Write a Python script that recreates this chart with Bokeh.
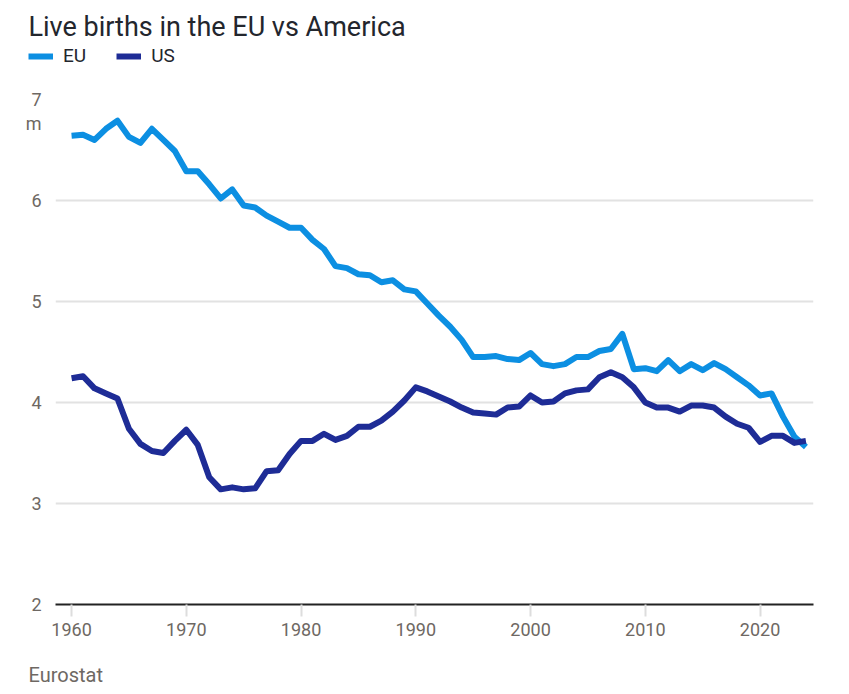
from bokeh.plotting import figure
from bokeh.layouts import column, row
from bokeh.models import Range1d, Legend, LegendItem, FixedTicker, Title, Label
from bokeh.embed import file_html
from bokeh.resources import INLINE

years = list(range(1960, 2025))
eu = [6.64, 6.65, 6.60, 6.71, 6.79, 6.63, 6.57, 6.71, 6.60, 6.49,
      6.29, 6.29, 6.16, 6.02, 6.11, 5.95, 5.93, 5.85, 5.79, 5.73,
      5.73, 5.61, 5.52, 5.35, 5.33, 5.27, 5.26, 5.19, 5.21, 5.12,
      5.10, 4.98, 4.86, 4.75, 4.62, 4.45, 4.45, 4.46, 4.43, 4.42,
      4.49, 4.38, 4.36, 4.38, 4.45, 4.45, 4.51, 4.53, 4.68, 4.33,
      4.34, 4.31, 4.42, 4.31, 4.38, 4.32, 4.39, 4.33, 4.25, 4.17,
      4.07, 4.09, 3.86, 3.66, 3.56]
us = [4.24, 4.26, 4.14, 4.09, 4.04, 3.74, 3.59, 3.52, 3.50, 3.62,
      3.73, 3.58, 3.26, 3.14, 3.16, 3.14, 3.15, 3.32, 3.33, 3.49,
      3.62, 3.62, 3.69, 3.63, 3.67, 3.76, 3.76, 3.82, 3.91, 4.02,
      4.15, 4.11, 4.06, 4.01, 3.95, 3.90, 3.89, 3.88, 3.95, 3.96,
      4.07, 4.00, 4.01, 4.09, 4.12, 4.13, 4.25, 4.30, 4.25, 4.15,
      4.00, 3.95, 3.95, 3.91, 3.97, 3.97, 3.95, 3.86, 3.79, 3.75,
      3.61, 3.67, 3.67, 3.60, 3.62]
series_names = ["EU", "US"]
x_ticks = [1960, 1970, 1980, 1990, 2000, 2010, 2020]
y_ticks = [2, 3, 4, 5, 6, 7]
unit_pos = 6.76
unit_label = "m"
title_text = "Live births in the EU vs America"
source_text = "Eurostat"

EU_COLOR = "#0c8fe2"
US_COLOR = "#1e2c96"
TICK_COLOR = "#6e6863"
TEXT_COLOR = "#23262d"
FONT = "Roboto"

LEFT = 55
# ---------- header: title + legend ----------
HEAD_H = 80
head = figure(width=838, height=HEAD_H, output_backend="svg", toolbar_location=None,
              x_axis_type=None, y_axis_type=None, min_border=0,
              x_range=Range1d(0, 1), y_range=Range1d(0, 1))
head.outline_line_color = None
head.grid.visible = False
# legend proxies: single-point lines draw nothing in the header
h_eu = head.line(years[:1], eu[:1], line_color=EU_COLOR, line_width=6)
h_us = head.line(years[:1], us[:1], line_color=US_COLOR, line_width=6)
head.add_layout(Label(x=28, y=HEAD_H - 26, x_units="screen", y_units="screen",
                      text=title_text, text_font=FONT, text_font_size="27px",
                      text_color=TEXT_COLOR, text_baseline="middle",
                      text_align="left"))
legend = Legend(items=[LegendItem(label=series_names[0], renderers=[h_eu]),
                       LegendItem(label=series_names[1], renderers=[h_us])],
                orientation="horizontal", location=(28, HEAD_H - 57 - 10),
                label_text_font=FONT, label_text_font_size="19px",
                label_text_color=TEXT_COLOR, glyph_width=25, glyph_height=20,
                label_standoff=10, spacing=30, padding=0, margin=0,
                border_line_color=None, background_fill_alpha=0)
head.add_layout(legend, "center")

# ---------- main chart ----------
p = figure(frame_width=758, frame_height=505, output_backend="svg",
           toolbar_location=None,
           x_range=Range1d(1958.6, 2024.66), y_range=Range1d(2, 7),
           min_border_left=LEFT, min_border_right=25, min_border_top=99 - HEAD_H,
           min_border_bottom=0, title=None)
p.outline_line_color = None
p.background_fill_color = "white"

p.line(years, eu, line_color=EU_COLOR, line_width=6, line_join="round")
p.line(years, us, line_color=US_COLOR, line_width=6, line_join="round")

p.xaxis.ticker = FixedTicker(ticks=x_ticks)
p.xaxis.axis_line_color = "#222222"
p.xaxis.axis_line_width = 2
p.xaxis.major_tick_line_color = "#dddddd"
p.xaxis.major_tick_line_width = 2
p.xaxis.major_tick_out = 12
p.xaxis.major_tick_in = 0
p.xaxis.minor_tick_line_color = None
p.xaxis.major_label_text_font = FONT
p.xaxis.major_label_text_font_size = "18px"
p.xaxis.major_label_text_color = TICK_COLOR
p.xaxis.major_label_standoff = 6

p.yaxis.ticker = FixedTicker(ticks=y_ticks + [unit_pos])
p.yaxis.major_label_overrides = {unit_pos: unit_label}
p.yaxis.axis_line_color = None
p.yaxis.major_tick_line_color = None
p.yaxis.minor_tick_line_color = None
p.yaxis.major_label_text_font = FONT
p.yaxis.major_label_text_font_size = "18px"
p.yaxis.major_label_text_color = TICK_COLOR
p.yaxis.major_label_standoff = 8

p.xgrid.grid_line_color = None
p.ygrid.ticker = FixedTicker(ticks=y_ticks[1:])
p.ygrid.grid_line_color = "#e2e2e2"
p.ygrid.grid_line_width = 2

p.add_layout(Title(text=source_text, text_font=FONT, text_font_size="20px",
                   text_color=TICK_COLOR, text_font_style="normal",
                   align="left", offset=-27, standoff=44), "below")

layout = column(row(head), row(p), spacing=0)
open("out.html", "w").write(file_html(layout, INLINE))
